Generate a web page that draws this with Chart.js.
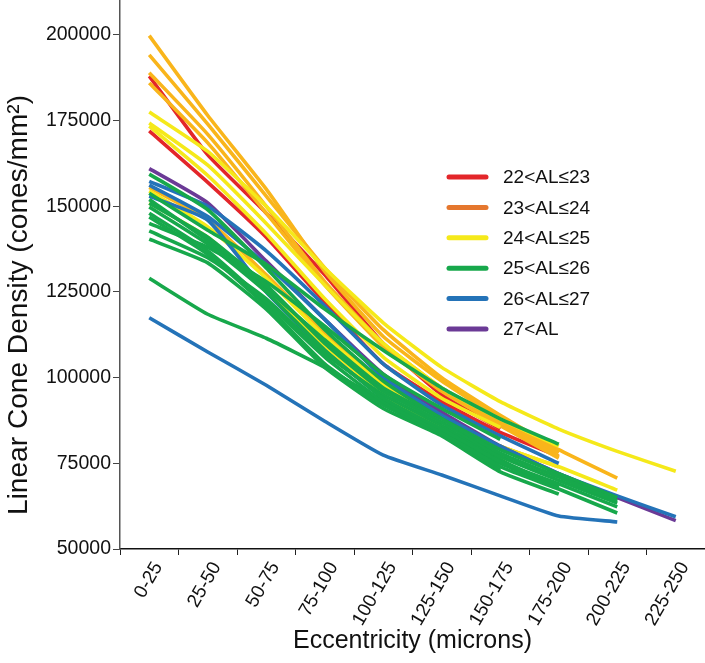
<!DOCTYPE html>
<html>
<head>
<meta charset="utf-8">
<script src="https://cdn.jsdelivr.net/npm/chart.js@4.4.1/dist/chart.umd.min.js"></script>
<style>
  html, body { margin: 0; padding: 0; background: #ffffff; }
  #wrap { position: relative; width: 705px; height: 663px; }
</style>
</head>
<body>
<div id="wrap"><canvas id="c"></canvas></div>
<script>
// ---- data ----
const categories = ["0-25","25-50","50-75","75-100","100-125","125-150","150-175","175-200","200-225","225-250"];
const yTickValues = [50000, 75000, 100000, 125000, 150000, 175000, 200000];
const legendLabels = ["22<AL\u226423","23<AL\u226424","24<AL\u226425","25<AL\u226426","26<AL\u226427","27<AL"];

// 22<AL<=23 (red)
const al22to23 = [
  [188000, 165000, 148000, 130000, 110000, 95000, 85000],
  [172000, 157000, 141000, 122000, 104000, 93000, 84000, 77000]
];
// 23<AL<=24 (amber)
const al23to24 = [
  [199800, 176500, 155000, 131000, 112000, 99000, 88000, 78000],
  [194200, 174000, 153000, 132000, 114000, 100000, 89000, 79000, 70700],
  [189000, 171000, 150000, 128000, 110000, 97000, 87000, 77000],
  [186000, 168500, 148000, 127000, 109000, 96000, 86000, 76500],
  [155500, 146000, 130000, 113000, 99000, 89000, 80000, 74000]
];
// 24<AL<=25 (yellow)
const al24to25 = [
  [177500, 166000, 150000, 132000, 116000, 103000, 93000, 85000, 78500, 72700],
  [174300, 162000, 145000, 127000, 110000, 97000, 88000, 80000],
  [173400, 159000, 142000, 123000, 106000, 94000, 85500],
  [154500, 144000, 129000, 112000, 98000, 88500, 80000, 74000, 67200],
  [151000, 141000, 126000, 109000, 95000, 85000, 77000, 71000]
];
// 25<AL<=26 (green)
const al25to26 = [
  [153800, 143000, 133000, 120000, 108000, 97000, 88000, 80600],
  [159400, 149000, 132000, 114000, 99000, 88000, 78000, 71000, 64000],
  [150900, 141000, 127000, 110000, 96000, 87000, 77000, 70000, 63400],
  [149800, 139000, 125000, 108000, 94000, 85000, 75500, 69000, 62300],
  [148000, 137000, 122000, 106000, 93000, 84000, 74000, 67500, 60500],
  [146900, 136000, 121000, 104000, 92000, 83500, 73000],
  [142800, 135000, 123000, 107000, 95000, 86000, 76000, 68000],
  [140400, 133500, 120000, 103000, 91000, 83000, 72500, 66000],
  [129000, 118500, 111500, 103000, 93000, 84000, 75000, 68000],
  [152000, 140000, 126000, 111000, 97000, 88000, 79000, 72000, 65000],
  [145000, 138000, 128000, 115000, 101000, 91000, 82000]
];
// 26<AL<=27 (blue)
const al26to27 = [
  [157300, 150000, 137000, 121000, 104000, 92000, 83000, 75000],
  [156200, 147000, 133000, 117000, 100000, 89000, 80000, 72000, 65500, 59400],
  [153000, 146000, 125000, 108000, 94000, 83300],
  [117500, 107500, 97800, 87300, 77400, 71600, 65500, 59600, 57900]
];
// 27<AL (purple)
const al27up = [
  [161000, 151000, 134000, 117000, 101000, 90000, 80000, 72000, 65000, 58300]
];

const lineColors = ["#E3262A", "#F9B51B", "#F5E91A", "#17A84B", "#2473B8", "#6B3A96"];
const legendColors = ["#E3262A", "#E5772E", "#F5E91A", "#17A84B", "#2473B8", "#6B3A96"];

// ---- build datasets ----
const groups = [al22to23, al23to24, al24to25, al25to26, al26to27, al27up];
const drawOrder = [3, 4, 5, 2, 1, 0];
const datasets = [];
drawOrder.forEach(gi => {
  groups[gi].forEach((vals, k) => {
    datasets.push({
      label: legendLabels[gi] + " #" + (k + 1),
      data: vals,
      borderColor: lineColors[gi],
      backgroundColor: lineColors[gi],
      borderWidth: 3.6,
      pointRadius: 0,
      tension: 0.15,
      fill: false,
      borderCapStyle: 'butt',
      borderJoinStyle: 'round'
    });
  });
});

const FONT = "'Liberation Sans', Arial, Helvetica, sans-serif";
const Y_TITLE = "Linear Cone Density (cones/mm\u00B2)";

const overlayPlugin = {
  id: 'overlay',
  afterDraw(chart) {
    const ctx = chart.ctx;
    ctx.save();
    // legend
    ctx.font = "19px " + FONT;
    ctx.textBaseline = 'middle';
    ctx.textAlign = 'left';
    legendLabels.forEach((lab, i) => {
      const y = 177 + i * 30.4;
      ctx.strokeStyle = legendColors[i];
      ctx.lineWidth = 5;
      ctx.lineCap = 'round';
      ctx.beginPath();
      ctx.moveTo(449, y);
      ctx.lineTo(486, y);
      ctx.stroke();
      ctx.fillStyle = '#111';
      ctx.fillText(lab, 503, y + 1);
    });
    // y axis title, sized to span the same length as in the reference
    ctx.font = "24px " + FONT;
    const w = ctx.measureText(Y_TITLE).width;
    const size = Math.max(22, Math.min(30, 24 * 420 / w));
    ctx.font = size.toFixed(1) + "px " + FONT;
    ctx.translate(19, 305);
    ctx.rotate(-Math.PI / 2);
    ctx.textAlign = 'center';
    ctx.textBaseline = 'middle';
    ctx.fillStyle = '#111';
    ctx.fillText(Y_TITLE, 0, 0);
    ctx.restore();
  }
};

new Chart(document.getElementById('c'), {
  type: 'line',
  data: { labels: categories, datasets: datasets },
  options: {
    responsive: true,
    maintainAspectRatio: false,
    devicePixelRatio: 1,
    animation: false,
    layout: { padding: 0 },
    plugins: { legend: { display: false }, tooltip: { enabled: false } },
    scales: {
      x: {
        type: 'category',
        offset: true,
        grid: { display: true, drawOnChartArea: false, drawTicks: true, tickLength: 6, color: '#222', offset: true },
        border: { display: true, color: '#111', width: 1.5 },
        ticks: { color: '#111', font: { size: 19, family: FONT }, minRotation: 60, maxRotation: 60, padding: 3, labelOffset: 9, autoSkip: false },
        title: { display: true, text: 'Eccentricity (microns)', color: '#111', font: { size: 25, family: FONT }, padding: { top: 0, bottom: 7 } },
        afterFit(s) { s.height = 114; s.paddingLeft = 0; s.paddingRight = 0; }
      },
      y: {
        min: 50000,
        max: 210200,
        grid: { display: true, drawOnChartArea: false, drawTicks: true, tickLength: 7, color: '#444' },
        border: { display: true, color: '#555', width: 1.5 },
        ticks: { color: '#111', font: { size: 19.5, family: FONT }, padding: 2, callback: v => String(v) },
        afterBuildTicks(s) { s.ticks = yTickValues.map(v => ({ value: v })); },
        afterFit(s) { s.width = 120; s.paddingTop = 0; s.paddingBottom = 0; }
      }
    }
  },
  plugins: [overlayPlugin]
});
</script>
</body>
</html>
